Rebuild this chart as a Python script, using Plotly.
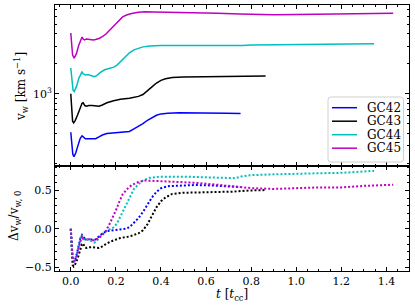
import numpy as np
import plotly.graph_objects as go
from plotly.subplots import make_subplots

# ---- data (t in t_cc, v_w in km/s) ----
t_gc42 = [0.000, 0.004, 0.009, 0.014, 0.022, 0.032, 0.042, 0.050, 0.056, 0.065, 0.080, 0.095, 0.110,
          0.125, 0.140, 0.160, 0.185, 0.210, 0.240, 0.260, 0.280, 0.300, 0.320, 0.340, 0.360, 0.380,
          0.400, 0.430, 0.480, 0.550, 0.620, 0.690, 0.753]
v_gc42 = [410, 308, 246, 234, 254, 303, 357, 377, 365, 353, 353, 353, 353,
          369, 385, 398, 402, 406, 410, 418, 443, 467, 500, 541, 578, 607,
          627, 638, 642, 644, 642, 638, 633]

t_gc43 = [0.000, 0.004, 0.008, 0.013, 0.020, 0.030, 0.040, 0.050, 0.055, 0.062, 0.070, 0.080, 0.095,
          0.110, 0.125, 0.140, 0.160, 0.190, 0.220, 0.260, 0.300, 0.320, 0.340, 0.360, 0.380, 0.400,
          0.420, 0.450, 0.500, 0.575, 0.650, 0.720, 0.790, 0.864]
v_gc43 = [1000, 700, 530, 510, 540, 610, 700, 800, 810, 760, 750, 760, 760,
          755, 750, 770, 810, 850, 880, 900, 940, 980, 1060, 1170, 1280, 1360,
          1410, 1455, 1470, 1475, 1480, 1485, 1500, 1505]

t_gc44 = [0.000, 0.004, 0.010, 0.015, 0.025, 0.035, 0.045, 0.050, 0.055, 0.065, 0.075, 0.085, 0.095,
          0.105, 0.115, 0.130, 0.150, 0.170, 0.190, 0.205, 0.220, 0.240, 0.260, 0.280, 0.300, 0.320,
          0.350, 0.400, 0.500, 0.600, 0.700, 0.730, 0.760, 0.800, 0.900, 1.000, 1.100, 1.200, 1.300, 1.345]
v_gc44 = [1810, 1358, 1086, 1050, 1177, 1412, 1629, 1665, 1575, 1539, 1557, 1539, 1502,
          1484, 1520, 1629, 1738, 1792, 1846, 1937, 2100, 2353, 2570, 2751, 2860, 2950,
          3014, 3041, 3041, 3032, 3014, 3005, 3050, 3077, 3095, 3113, 3122, 3131, 3158, 3177]

t_gc45 = [0.000, 0.003, 0.008, 0.015, 0.025, 0.035, 0.045, 0.050, 0.055, 0.060, 0.070, 0.080, 0.090,
          0.100, 0.110, 0.125, 0.140, 0.155, 0.170, 0.185, 0.200, 0.215, 0.230, 0.250, 0.270, 0.300,
          0.330, 0.370, 0.450, 0.550, 0.650, 0.750, 0.800, 0.900, 1.000, 1.100, 1.200, 1.300, 1.430]
v_gc45 = [4070, 3256, 2442, 2279, 2523, 3053, 3582, 3704, 3541, 3460, 3541, 3500, 3500,
          3460, 3500, 3582, 3744, 3948, 4274, 4640, 5047, 5495, 5902, 6186, 6390, 6553,
          6634, 6614, 6573, 6512, 6410, 6288, 6227, 6186, 6227, 6268, 6268, 6349, 6410]

names = ["GC42", "GC43", "GC44", "GC45"]
colors = ["#0000ff", "#000000", "#00bfbf", "#bf00bf"]
series_t = [t_gc42, t_gc43, t_gc44, t_gc45]
series_v = [v_gc42, v_gc43, v_gc44, v_gc45]

x_ticks = [0.0, 0.2, 0.4, 0.6, 0.8, 1.0, 1.2, 1.4]
x_ticktext = ["0.0", "0.2", "0.4", "0.6", "0.8", "1.0", "1.2", "1.4"]
y1_minor = [200, 300, 400, 500, 600, 700, 800, 900, 2000, 3000, 4000, 5000, 6000, 7000]
y2_ticks = [-0.5, 0.0, 0.5]
y2_ticktext = ["\u22120.5", "0.0", "0.5"]

FONT = "DejaVu Serif"

# figure geometry (pixels)
W, H = 415, 308
L, R, T, B = 55, 6, 5, 37
PW, PH = W - L - R, H - T - B


def px(x):
    return (x - L) / PW


def py(y):
    return (H - B - y) / PH


fig = make_subplots(rows=2, cols=1, shared_xaxes=True, vertical_spacing=0,
                    row_heights=[0.605, 0.395])

for name, col, t, v in zip(names, colors, series_t, series_v):
    v = np.asarray(v, dtype=float)
    fig.add_trace(go.Scatter(x=t, y=v, mode="lines", name=name, showlegend=False,
                             line=dict(color=col, width=1.5)), row=1, col=1)
    dv = v / v[0] - 1.0
    fig.add_trace(go.Scatter(x=t, y=dv, mode="lines", showlegend=False,
                             line=dict(color=col, width=2, dash="2px,2px")), row=2, col=1)

axis_common = dict(showline=True, linecolor="black", linewidth=1, mirror="ticks",
                   ticks="inside", ticklen=4, tickwidth=1, tickcolor="black",
                   showgrid=False, zeroline=False, automargin=False,
                   tickfont=dict(family=FONT, size=11, color="black"))

fig.update_xaxes(**axis_common, range=[-0.07, 1.5], tickvals=x_ticks, ticktext=x_ticktext,
                 minor=dict(dtick=0.05, tick0=0, ticks="inside", ticklen=2, tickcolor="black", showgrid=False))
fig.update_xaxes(showticklabels=False, row=1, col=1)

fig.update_yaxes(**axis_common, type="log", range=[2.275, 3.89], tickvals=[1000],
                 ticktext=["10<sup>3</sup>"],
                 minor=dict(tickvals=y1_minor, ticks="inside", ticklen=2, tickcolor="black", showgrid=False),
                 row=1, col=1)
fig.update_yaxes(**axis_common, range=[-0.55, 0.82], tickvals=y2_ticks, ticktext=y2_ticktext,
                 minor=dict(dtick=0.1, tick0=0, ticks="inside", ticklen=2, tickcolor="black", showgrid=False),
                 row=2, col=1)

annotations = [
    dict(text="<i>t</i> [<i>t</i><sub>cc</sub>]", xref="paper", yref="paper", x=0.5, y=py(295),
         xanchor="center", yanchor="middle", showarrow=False,
         font=dict(family=FONT, size=12, color="black")),
    dict(text="v<sub>w</sub> [km s<sup>\u22121</sup>]", xref="paper", yref="paper", x=px(21), y=py(87),
         xanchor="center", yanchor="middle", textangle=-90, showarrow=False,
         font=dict(family=FONT, size=12, color="black")),
    dict(text="\u0394v<sub>w</sub>/v<sub>w, 0</sub>", xref="paper", yref="paper", x=px(15), y=py(216),
         xanchor="center", yanchor="middle", textangle=-90, showarrow=False,
         font=dict(family=FONT, size=12, color="black")),
]

# legend box drawn by hand (matplotlib-like compact legend with rounded corners)
bx0, bx1, by0, by1, rr = 328, 403.5, 97, 162, 3


def P(x, y):
    return f"{px(x):.5f},{py(y):.5f}"


legend_path = (f"M {P(bx0 + rr, by0)} L {P(bx1 - rr, by0)} Q {P(bx1, by0)} {P(bx1, by0 + rr)} "
               f"L {P(bx1, by1 - rr)} Q {P(bx1, by1)} {P(bx1 - rr, by1)} "
               f"L {P(bx0 + rr, by1)} Q {P(bx0, by1)} {P(bx0, by1 - rr)} "
               f"L {P(bx0, by0 + rr)} Q {P(bx0, by0)} {P(bx0 + rr, by0)} Z")
shapes = [dict(type="path", xref="paper", yref="paper", path=legend_path,
               line=dict(color="#d0d0d0", width=1), fillcolor="rgba(255,255,255,0.9)", layer="above")]
leg_y = [107.7, 121.2, 134.7, 148.2]
for name, col, yy in zip(names, colors, leg_y):
    shapes.append(dict(type="line", xref="paper", yref="paper", x0=px(332), x1=px(357),
                       y0=py(yy), y1=py(yy), line=dict(color=col, width=1.5), layer="above"))
    annotations.append(dict(text=name, xref="paper", yref="paper", x=px(365), y=py(yy),
                            xanchor="left", yanchor="middle", showarrow=False,
                            font=dict(family=FONT, size=12, color="black")))

fig.update_layout(width=W, height=H, margin=dict(l=L, r=R, t=T, b=B),
                  paper_bgcolor="white", plot_bgcolor="white",
                  font=dict(family=FONT, size=11, color="black"),
                  showlegend=False, annotations=annotations, shapes=shapes)

fig.write_html("out.html", config={"displayModeBar": False, "staticPlot": True},
               post_script="document.body.style.margin='0';document.body.style.padding='0';"
                           "document.body.style.overflow='hidden';")
